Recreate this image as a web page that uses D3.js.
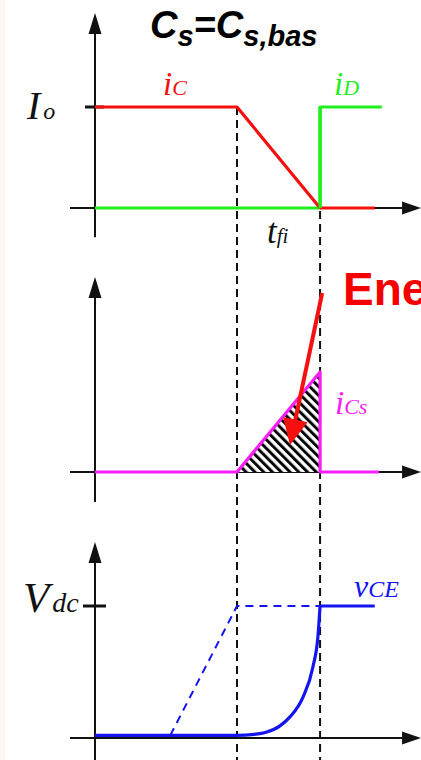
<!DOCTYPE html>
<html>
<head>
<meta charset="utf-8">
<script src="https://cdn.jsdelivr.net/npm/d3@7"></script>
<style>
  html, body { margin: 0; padding: 0; background: #fff; overflow: hidden; }
  svg { display: block; }
</style>
</head>
<body>
<svg id="chart" width="421" height="760"></svg>
<script>
// Time in units of the turn-off instant: 1 = current starts to fall, 1.585 = end of t_fi
const tFall = 1.0;
const tFallEnd = 1.585;

// Collector current i_C and diode current i_D (per unit of I_o)
const iC = [[0, 1], [1, 1], [1.585, 0], [1.97, 0]];
const iD = [[0, 0], [1.585, 0], [1.585, 1], [2.02, 1]];

// Snubber capacitor current i_Cs (per unit of its peak)
const iCs = [[0, 0], [1, 0], [1.585, 1], [1.585, 0], [2.0, 0]];
const iCsCharge = [[1, 0], [1.585, 1]];

// Collector-emitter voltage v_CE (per unit of V_dc)
const vceLow = [[0, 0.02], [1, 0.02]];
const vceRise = [[1, 0.02], [1.1, 0.025], [1.21, 0.045], [1.3, 0.09], [1.373, 0.16], [1.465, 0.31], [1.535, 0.54], [1.57, 0.77], [1.585, 1]];
const vceHigh = [[1.585, 1], [1.97, 1]];
// Voltage without snubber (dashed reference)
const vceNoSnubber = [[0.53, 0.02], [1, 1], [1.585, 1]];

// Annotation arrow, in time / i_Cs units
const energyArrow = { from: [1.6, 1.79], to: [1.373, 0.27] };

const svg = d3.select("#chart");
const W = 421, H = 760;

svg.append("rect").attr("width", W).attr("height", H).attr("fill", "#ffffff");
svg.append("rect").attr("width", 5).attr("height", H).attr("fill", "#fdf8f3");

const x = d3.scaleLinear().domain([0, 1]).range([95, 237]);
const yTop = d3.scaleLinear().domain([0, 1]).range([208, 107]);
const yMid = d3.scaleLinear().domain([0, 1]).range([472, 372]);
const yBot = d3.scaleLinear().domain([0, 1]).range([738, 606]);

const RED = "#f50f0f", GREEN = "#1ef01e", MAGENTA = "#f81ef5", BLUE = "#1414f0";
const serif = "'Liberation Serif', 'Times New Roman', serif";
const sans = "'Liberation Sans', Arial, sans-serif";

// hatch pattern for the capacitor charge area
const defs = svg.append("defs");
const pat = defs.append("pattern")
  .attr("id", "hatch").attr("patternUnits", "userSpaceOnUse")
  .attr("width", 6.2).attr("height", 6.2)
  .attr("patternTransform", "rotate(-45)");
pat.append("rect").attr("width", 6.2).attr("height", 6.2).attr("fill", "#fff");
pat.append("line").attr("x1", 1.5).attr("x2", 1.5).attr("y1", 0).attr("y2", 6.2)
  .attr("stroke", "#000").attr("stroke-width", 2.9);

// vertical dashed guides at the start and end of t_fi
[tFall, tFallEnd].forEach(t => {
  svg.append("line")
    .attr("x1", x(t)).attr("x2", x(t))
    .attr("y1", yTop(1)).attr("y2", H)
    .attr("stroke", "#111").attr("stroke-width", 2)
    .attr("stroke-dasharray", "8,5");
});

// axes with arrow heads
function axes(y, yMin, yMax) {
  const g = svg.append("g");
  const x0 = x(0), xa = x(-0.176), xb = x(2.296);
  g.append("line").attr("x1", x0).attr("x2", x0).attr("y1", y(yMin)).attr("y2", y(yMax) + 18)
    .attr("stroke", "#111").attr("stroke-width", 2);
  g.append("line").attr("x1", xa).attr("x2", xb - 16).attr("y1", y(0)).attr("y2", y(0))
    .attr("stroke", "#111").attr("stroke-width", 2);
  const ty = y(yMax);
  g.append("path").attr("d", `M${x0},${ty} L${x0 - 6.5},${ty + 21} L${x0 + 6.5},${ty + 21} Z`).attr("fill", "#111");
  const y0 = y(0);
  g.append("path").attr("d", `M${xb},${y0} L${xb - 19},${y0 - 6.5} L${xb - 19},${y0 + 6.5} Z`).attr("fill", "#111");
  return g;
}
axes(yTop, -0.29, 1.93);
axes(yMid, -0.30, 1.95);
axes(yBot, -0.17, 1.485);

// level ticks
svg.append("line").attr("x1", 85).attr("x2", 104).attr("y1", yTop(1)).attr("y2", yTop(1))
  .attr("stroke", "#111").attr("stroke-width", 3);
svg.append("line").attr("x1", 83).attr("x2", 106).attr("y1", yBot(1)).attr("y2", yBot(1))
  .attr("stroke", "#111").attr("stroke-width", 3);

const lineOf = (y, curve) => d3.line().x(d => x(d[0])).y(d => y(d[1])).curve(curve || d3.curveLinear);

function trace(data, y, color, opts = {}) {
  return svg.append("path").datum(data)
    .attr("d", lineOf(y, opts.curve))
    .attr("fill", "none").attr("stroke", color)
    .attr("stroke-width", opts.width || 3.2)
    .attr("stroke-dasharray", opts.dash || null)
    .attr("stroke-linejoin", "round");
}

// top panel
trace(iD, yTop, GREEN);
trace(iC.slice(0, 3), yTop, RED);
trace(iC.slice(2), yTop, RED);
// green rising edge drawn over the red
trace(iD.slice(1, 3), yTop, GREEN);

// middle panel: hatched charge area then i_Cs
const area = d3.area().x(d => x(d[0])).y0(yMid(0)).y1(d => yMid(d[1]));
svg.append("path").datum(iCsCharge).attr("d", area).attr("fill", "url(#hatch)");
trace(iCs, yMid, MAGENTA);

// bottom panel
trace(vceNoSnubber, yBot, BLUE, { width: 2, dash: "8,6" });
trace(vceLow, yBot, BLUE);
trace(vceRise, yBot, BLUE, { curve: d3.curveMonotoneX });
trace(vceHigh, yBot, BLUE);

// energy arrow
{
  const sx = x(energyArrow.from[0]), sy = yMid(energyArrow.from[1]);
  const tx = x(energyArrow.to[0]), ty = yMid(energyArrow.to[1]);
  const dx = tx - sx, dy = ty - sy, len = Math.hypot(dx, dy);
  const ux = dx / len, uy = dy / len, nx = -uy, ny = ux;
  const hl = 26, hw = 12.5;
  const bx = tx - hl * ux, by = ty - hl * uy;
  svg.append("line").attr("x1", sx).attr("y1", sy).attr("x2", bx + 2 * ux).attr("y2", by + 2 * uy)
    .attr("stroke", RED).attr("stroke-width", 4);
  svg.append("path")
    .attr("d", `M${tx},${ty} L${bx + hw * nx},${by + hw * ny} L${bx - hw * nx},${by - hw * ny} Z`)
    .attr("fill", RED);
}

// texts
function label(px, py, parts, color, family, style, weight) {
  const t = svg.append("text").attr("x", px).attr("y", py)
    .attr("fill", color).attr("font-family", family)
    .attr("font-style", style || "italic").attr("font-weight", weight || "normal");
  parts.forEach(p => {
    const s = t.append("tspan").attr("font-size", p.size).text(p.text);
    if (p.dy) s.attr("dy", p.dy);
    if (p.dx) s.attr("dx", p.dx);
  });
  return t;
}

// title
label(150, 38, [
  { text: "C", size: 38 },
  { text: "s", size: 29, dy: 8 },
  { text: "=", size: 38, dy: -8 },
  { text: "C", size: 38 },
  { text: "s,bas", size: 29, dy: 8 }
], "#000", sans, "italic", "bold");

label(27, 119, [{ text: "I", size: 40 }, { text: "o", size: 24, dx: 3 }], "#111", serif);
label(163, 95, [{ text: "i", size: 33 }, { text: "C", size: 22 }], RED, serif);
label(334, 95, [{ text: "i", size: 33 }, { text: "D", size: 22 }], GREEN, serif);
label(267, 243, [{ text: "t", size: 35 }, { text: "fi", size: 21 }], "#111", serif);
label(335, 414, [{ text: "i", size: 33 }, { text: "Cs", size: 22 }], MAGENTA, serif);
label(23, 612, [{ text: "V", size: 43 }, { text: "dc", size: 28, dx: 3 }], "#111", serif);
label(354, 597, [{ text: "v", size: 32 }, { text: "CE", size: 24 }], BLUE, serif);

svg.append("text").attr("x", 343).attr("y", 305)
  .attr("font-family", sans).attr("font-weight", "bold").attr("font-size", 46)
  .attr("fill", "#f50000").text("Energy");
</script>
</body>
</html>
